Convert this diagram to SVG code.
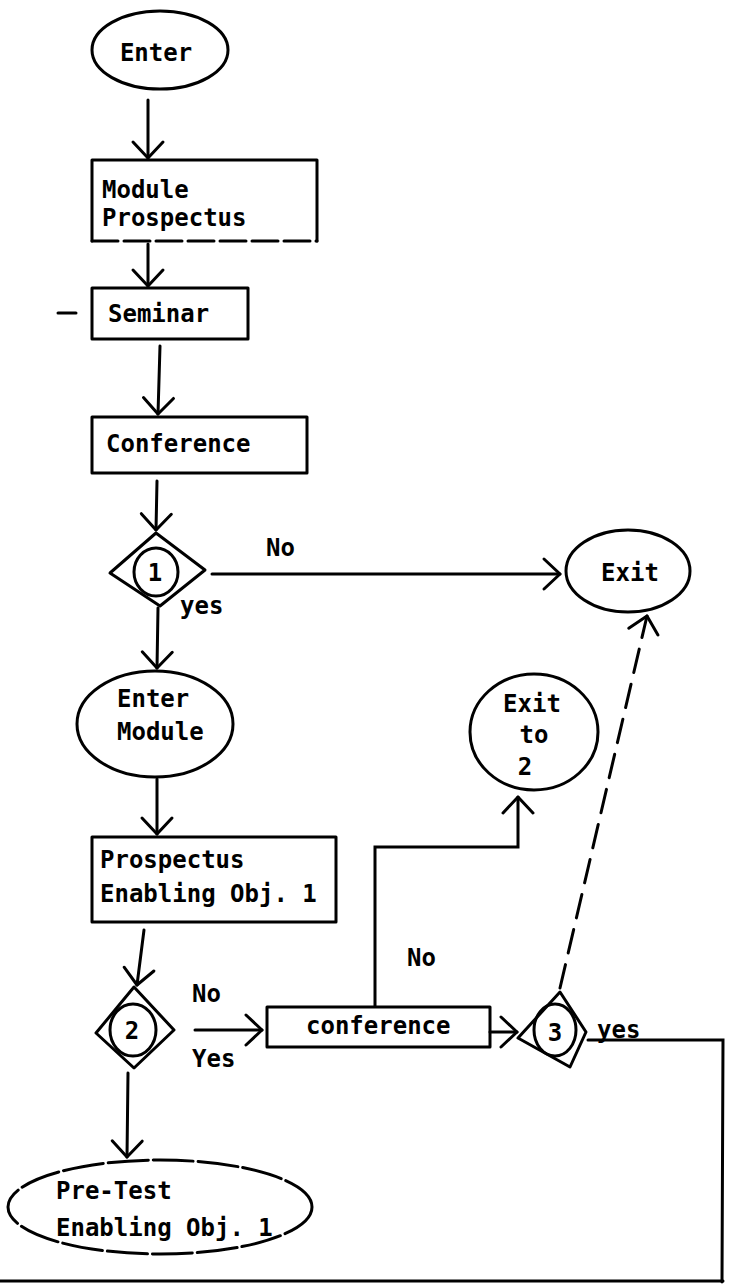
<svg xmlns="http://www.w3.org/2000/svg" width="754" height="1284" viewBox="0 0 754 1284">
<defs>
<style>
.shape{fill:none;stroke:#000;stroke-width:3;stroke-linejoin:round;stroke-linecap:round}
.conn{fill:none;stroke:#000;stroke-width:3;stroke-linecap:round}
.dash{stroke-dasharray:24 12}
.t{font-family:"DejaVu Sans Mono","Liberation Mono",monospace;font-size:24px;font-weight:bold;fill:#000}
.n{text-anchor:middle}
</style>
<marker id="arr" markerUnits="userSpaceOnUse" markerWidth="40" markerHeight="40" viewBox="-20 -20 40 40" refX="0" refY="0" orient="auto">
<path d="M-16,-15 L0,0 L-16,15" fill="none" stroke="#000" stroke-width="3" stroke-linecap="round" stroke-linejoin="round"/>
</marker>
</defs>
<rect width="754" height="1284" fill="#fff"/>

<g id="connectors">
<line class="conn" x1="148" y1="100" x2="148" y2="158" marker-end="url(#arr)"/>
<line class="conn" x1="148" y1="244" x2="148" y2="286" marker-end="url(#arr)"/>
<line class="conn" x1="160" y1="346" x2="158" y2="414" marker-end="url(#arr)"/>
<line class="conn" x1="157" y1="481" x2="156" y2="530" marker-end="url(#arr)"/>
<line class="conn" x1="212" y1="574" x2="560" y2="574" marker-end="url(#arr)"/>
<line class="conn" x1="158" y1="608" x2="157" y2="668" marker-end="url(#arr)"/>
<line class="conn" x1="157" y1="779" x2="157" y2="834" marker-end="url(#arr)"/>
<line class="conn" x1="144" y1="930" x2="137" y2="985" marker-end="url(#arr)"/>
<line class="conn" x1="195" y1="1030" x2="262" y2="1030" marker-end="url(#arr)"/>
<line class="conn" x1="128" y1="1073" x2="127" y2="1157" marker-end="url(#arr)"/>
<polyline class="conn" points="375,1006 375,847 518,847 518,797" marker-end="url(#arr)"/>
<line class="conn" x1="490" y1="1032" x2="517" y2="1032" marker-end="url(#arr)"/>
<line class="conn dash" x1="560" y1="988" x2="647" y2="616" marker-end="url(#arr)"/>
<polyline class="conn" points="588,1040 723,1040 722,1282"/>
<line class="conn" x1="0" y1="1281" x2="723" y2="1281"/>
<line class="conn" x1="58" y1="313" x2="76" y2="313"/>
</g>

<g id="enter">
<ellipse class="shape" cx="160" cy="50" rx="68" ry="39"/>
<text class="t n" x="156" y="61">Enter</text>
</g>

<g id="module-prospectus">
<path class="shape" d="M92,241 L92,160 L317,160 L317,241"/>
<line class="shape" x1="92" y1="241" x2="317" y2="241" stroke-dasharray="26 6"/>
<text class="t" x="102" y="198">Module</text>
<text class="t" x="102" y="226">Prospectus</text>
</g>

<g id="seminar">
<rect class="shape" x="92" y="288" width="156" height="51"/>
<text class="t" x="108" y="322">Seminar</text>
</g>

<g id="conference-1">
<rect class="shape" x="92" y="417" width="215" height="56"/>
<text class="t" x="106" y="452">Conference</text>
</g>

<g id="decision-1">
<polygon class="shape" points="156,533 205,570 160,606 110,573"/>
<ellipse class="shape" cx="156" cy="572" rx="22" ry="24"/>
<text class="t n" x="155" y="581">1</text>
<text class="t" x="266" y="556">No</text>
<text class="t" x="180" y="614">yes</text>
</g>

<g id="exit">
<ellipse class="shape" cx="628" cy="571" rx="62" ry="41"/>
<text class="t n" x="630" y="581">Exit</text>
</g>

<g id="enter-module">
<ellipse class="shape" cx="155" cy="724" rx="78" ry="53"/>
<text class="t" x="117" y="707">Enter</text>
<text class="t" x="117" y="740">Module</text>
</g>

<g id="exit-to-2">
<ellipse class="shape" cx="534" cy="732" rx="64" ry="58"/>
<text class="t n" x="532" y="712">Exit</text>
<text class="t n" x="534" y="743">to</text>
<text class="t n" x="525" y="775">2</text>
</g>

<g id="prospectus-eo1">
<rect class="shape" x="92" y="837" width="244" height="85"/>
<text class="t" x="100" y="868">Prospectus</text>
<text class="t" x="100" y="902">Enabling Obj. 1</text>
</g>

<g id="decision-2">
<polygon class="shape" points="134,987 174,1030 134,1068 96,1033"/>
<ellipse class="shape" cx="133" cy="1030" rx="23" ry="26"/>
<text class="t n" x="132" y="1039">2</text>
<text class="t" x="192" y="1002">No</text>
<text class="t" x="192" y="1067">Yes</text>
</g>

<g id="conference-2">
<rect class="shape" x="267" y="1007" width="223" height="40"/>
<text class="t" x="306" y="1034">conference</text>
<text class="t" x="407" y="966">No</text>
</g>

<g id="decision-3">
<polygon class="shape" points="560,992 586,1032 570,1067 518,1038"/>
<ellipse class="shape" cx="555" cy="1030" rx="21" ry="26"/>
<text class="t n" x="555" y="1041">3</text>
<text class="t" x="597" y="1038">yes</text>
</g>

<g id="pre-test">
<ellipse class="shape" cx="160" cy="1207" rx="152" ry="47" stroke-dasharray="40 5"/>
<text class="t" x="56" y="1199">Pre-Test</text>
<text class="t" x="56" y="1236">Enabling Obj. 1</text>
</g>
</svg>
